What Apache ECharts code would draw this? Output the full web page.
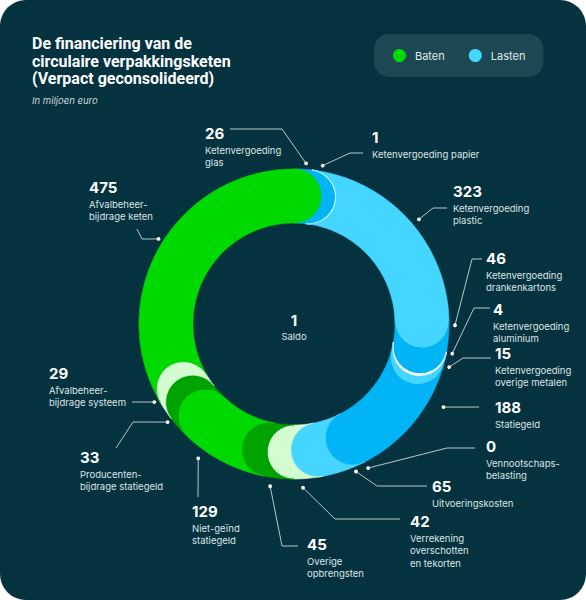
<!DOCTYPE html>
<html>
<head>
<meta charset="utf-8">
<script src="https://cdn.jsdelivr.net/npm/echarts@6/dist/echarts.min.js"></script>
<style>
  html, body { margin: 0; padding: 0; background: #ffffff; }
  #chart { width: 586px; height: 600px; background: #04323f; border-radius: 26px; overflow: hidden; }
</style>
</head>
<body>
<div id="chart"></div>
<script>
// ---------- data ----------
const lastenNames = ['Ketenvergoeding glas', 'Ketenvergoeding papier', 'Ketenvergoeding plastic',
  'Ketenvergoeding drankenkartons', 'Ketenvergoeding aluminium', 'Ketenvergoeding overige metalen',
  'Statiegeld', 'Vennootschapsbelasting', 'Uitvoeringskosten', 'Verrekening overschotten en tekorten'];
const lastenValues = [26, 1, 323, 46, 4, 15, 188, 0, 65, 42];
const lastenLines = [['Ketenvergoeding', 'glas'], ['Ketenvergoeding papier'], ['Ketenvergoeding', 'plastic'],
  ['Ketenvergoeding', 'drankenkartons'], ['Ketenvergoeding', 'aluminium'], ['Ketenvergoeding', 'overige metalen'],
  ['Statiegeld'], ['Vennootschaps-', 'belasting'], ['Uitvoeringskosten'], ['Verrekening', 'overschotten', 'en tekorten']];

const batenNames = ['Overige opbrengsten', 'Niet-geïnd statiegeld', 'Producentenbijdrage statiegeld',
  'Afvalbeheerbijdrage systeem', 'Afvalbeheerbijdrage keten'];
const batenValues = [45, 129, 33, 29, 475];
const batenLines = [['Overige', 'opbrengsten'], ['Niet-geïnd', 'statiegeld'], ['Producenten-', 'bijdrage statiegeld'],
  ['Afvalbeheer-', 'bijdrage systeem'], ['Afvalbeheer-', 'bijdrage keten']];

const saldoValue = 1;
const saldoLabel = 'Saldo';

// ---------- styles / layout ----------
const C = { bright: '#00d900', dark: '#00a200', pale: '#d3fcd0', light: '#44d6ff', mid: '#00b4f5', white: '#ffffff' };
const lastenColors = [C.mid, C.white, C.light, C.mid, C.white, C.light, C.mid, C.white, C.light, C.pale];
const batenColors = [C.dark, C.bright, C.dark, C.pale, C.bright];

const CENTER = [294, 324];
const R0 = 101, R1 = 155, RM = (R0 + R1) / 2, AXIS_R = 180;
const FONT = 'Inter, "Noto Sans", sans-serif';
const LINE_COLOR = '#b9c6ca';
const DESC_COLOR = '#dde5e7';

// label layout: dot shift (value units), dot radius, leader points, number position [left, centerY]
const lastenLayout = [
  { s: 4,   r: 161, line: [[282, 129], [230, 129]], num: [205, 133] },
  { s: 14,  r: 161, line: [[350, 153], [363, 153]], num: [372, 137] },
  { s: 9,   r: 163, line: [[433, 208], [447, 208]], num: [453, 191] },
  { s: -16, r: 161, line: [[472, 259], [482, 259]], num: [486, 258] },
  { s: -1,  r: 161, line: [[474, 308], [490, 308]], num: [493, 309] },
  { s: 9,   r: 161, line: [[463, 358], [491, 358]], num: [495, 353] },
  { s: -39, r: 171, line: [[479, 407]], num: [495, 407] },
  { s: 0,   r: 162, line: [[447, 448], [475, 448]], num: [486, 446] },
  { s: -15, r: 160, line: [[377, 486], [427, 486]], num: [432, 486] },
  { s: 9,   r: 164, line: [[335, 519], [400, 519]], num: [410, 521] }
];
const batenLayout = [
  { s: 11, r: 164, line: [[282, 546], [298, 546]], num: [307, 544] },
  { s: 31, r: 165, line: [[198, 497]], num: [192, 511] },
  { s: 16, r: 160, line: [[133, 422], [116, 448]], num: [80, 457] },
  { s: 19, r: 160, line: [[132, 402]], num: [49, 373] },
  { s: 9,  r: 160, line: [[142, 239], [137, 229]], num: [89, 187] }
];

// ---------- derived ----------
const total = lastenValues.reduce((a, b) => a + b, 0) + batenValues.reduce((a, b) => a + b, 0);
function cumulative(values, offset) {
  let acc = offset;
  return values.map(v => { const s = acc; acc += v; return [s, acc]; });
}
const lastenData = cumulative(lastenValues, 0);
const batenData = cumulative(batenValues, lastenValues.reduce((a, b) => a + b, 0));

function segmentPoints(api, a0, a1) {
  const pts = [];
  const N = Math.max(2, Math.ceil((a1 - a0) / 3));
  const M = 24;
  for (let k = 0; k <= N; k++) pts.push(api.coord([R1, a0 + (a1 - a0) * k / N]).slice(0, 2));
  // convex end cap
  let c = api.coord([RM, a1]), po = api.coord([R1, a1]);
  let ux = po[0] - c[0], uy = po[1] - c[1];
  const rc = Math.hypot(ux, uy); ux /= rc; uy /= rc;
  let tx = -uy, ty = ux;
  for (let j = 1; j < M; j++) {
    const f = Math.PI * j / M;
    pts.push([c[0] + rc * (ux * Math.cos(f) + tx * Math.sin(f)), c[1] + rc * (uy * Math.cos(f) + ty * Math.sin(f))]);
  }
  for (let k = N; k >= 0; k--) pts.push(api.coord([R0, a0 + (a1 - a0) * k / N]).slice(0, 2));
  // concave start
  c = api.coord([RM, a0]); po = api.coord([R1, a0]);
  ux = (po[0] - c[0]) / rc; uy = (po[1] - c[1]) / rc; tx = -uy; ty = ux;
  for (let j = 1; j < M; j++) {
    const f = Math.PI * j / M;
    pts.push([c[0] + rc * (-ux * Math.cos(f) + tx * Math.sin(f)), c[1] + rc * (-uy * Math.cos(f) + ty * Math.sin(f))]);
  }
  return pts;
}

function makeRender(values, colors, lines, layout) {
  return function (params, api) {
    const i = params.dataIndex;
    const a0 = api.value(0), a1 = api.value(1);
    const col = colors[i];
    const L = layout[i];
    const children = [];
    if (a1 > a0) {
      const thin = (a1 - a0) < 6;
      children.push({
        type: 'polygon', shape: { points: segmentPoints(api, a0, a1) },
        style: { fill: col, stroke: col, lineWidth: thin ? 1.3 : 0.6 }
      });
    }
    const dot = api.coord([L.r, (a0 + a1) / 2 + L.s]).slice(0, 2);
    children.push({ type: 'polyline', shape: { points: [dot].concat(L.line) },
      style: { stroke: LINE_COLOR, lineWidth: 1, fill: null }, z2: 5 });
    children.push({ type: 'circle', shape: { cx: dot[0], cy: dot[1], r: 1.9 }, style: { fill: '#ffffff' }, z2: 6 });
    children.push({ type: 'text', x: L.num[0], y: L.num[1],
      style: { text: String(values[i]), fill: '#ffffff', fontSize: 15, fontWeight: 700, fontFamily: FONT,
        align: 'left', verticalAlign: 'middle' }, z2: 6 });
    children.push({ type: 'text', x: L.num[0], y: L.num[1] + 17 - 6.25,
      style: { text: lines[i].join('\n'), fill: DESC_COLOR, fontSize: 9.5, fontFamily: FONT,
        lineHeight: 12.5, align: 'left', verticalAlign: 'top' }, z2: 6 });
    return { type: 'group', children: children };
  };
}

const chart = echarts.init(document.getElementById('chart'), null, { renderer: 'svg' });
chart.setOption({
  backgroundColor: 'transparent',
  animation: false,
  title: [
    { text: 'De financiering van de\ncirculaire verpakkingsketen\n(Verpact geconsolideerd)',
      left: 32, top: 35, padding: 0,
      textStyle: { color: '#ffffff', fontSize: 16, fontWeight: 700, fontFamily: 'Roboto, sans-serif', lineHeight: 17.5 } },
    { text: 'In miljoen euro', left: 32, top: 95, padding: 0,
      textStyle: { color: '#cfd8db', fontSize: 9.5, fontStyle: 'italic', fontWeight: 'normal', fontFamily: FONT } }
  ],
  legend: {
    data: ['Baten', 'Lasten'],
    left: 374, top: 34, padding: [15, 18, 15, 19],
    backgroundColor: '#1c4853', borderRadius: 15,
    icon: 'circle', itemWidth: 13, itemHeight: 13, itemGap: 24,
    selectedMode: false,
    textStyle: { color: '#e2e9eb', fontSize: 11, fontFamily: FONT, padding: [0, 0, 0, 4] }
  },
  polar: { center: CENTER, radius: [0, AXIS_R] },
  radiusAxis: { type: 'value', min: 0, max: AXIS_R, show: false },
  angleAxis: { type: 'value', min: 0, max: total, startAngle: 90, clockwise: true, show: false },
  graphic: [
    { type: 'text', x: CENTER[0], y: CENTER[1] - 4,
      style: { text: String(saldoValue), fill: '#ffffff', fontSize: 15, fontWeight: 700, fontFamily: FONT, align: 'center', verticalAlign: 'middle' } },
    { type: 'text', x: CENTER[0], y: CENTER[1] + 12,
      style: { text: saldoLabel, fill: DESC_COLOR, fontSize: 9.5, fontFamily: FONT, align: 'center', verticalAlign: 'middle' } }
  ],
  series: [
    { type: 'custom', name: 'Lasten', coordinateSystem: 'polar', itemStyle: { color: C.light },
      data: lastenData, renderItem: makeRender(lastenValues, lastenColors, lastenLines, lastenLayout) },
    { type: 'custom', name: 'Baten', coordinateSystem: 'polar', itemStyle: { color: C.bright },
      data: batenData, renderItem: makeRender(batenValues, batenColors, batenLines, batenLayout) }
  ]
});
</script>
</body>
</html>
